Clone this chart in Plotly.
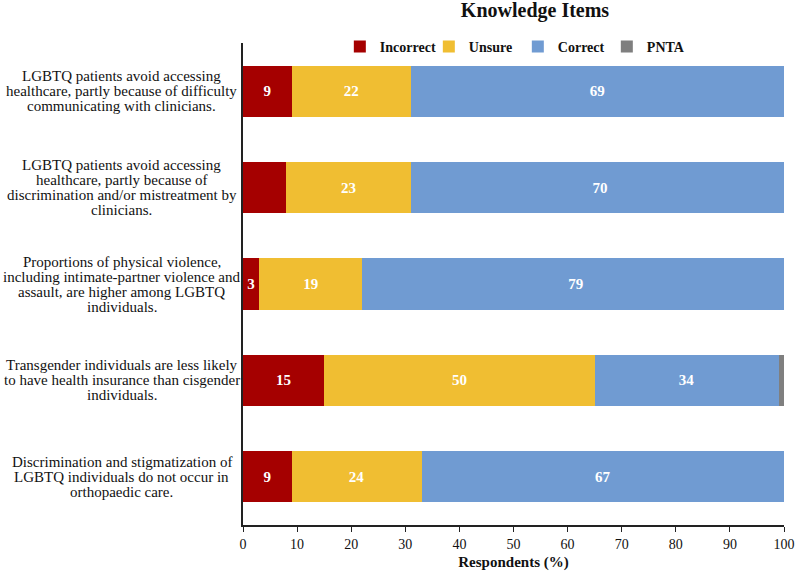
import plotly.graph_objects as go

categories = [
    "LGBTQ patients avoid accessing<br>healthcare, partly because of difficulty<br>communicating with clinicians.",
    "LGBTQ patients avoid accessing<br>healthcare, partly because of<br>discrimination and/or mistreatment by<br>clinicians.",
    "Proportions of physical violence,<br>including intimate-partner violence and<br>assault, are higher among LGBTQ<br>individuals.",
    "Transgender individuals are less likely<br>to have health insurance than cisgender<br>individuals.",
    "Discrimination and stigmatization of<br>LGBTQ individuals do not occur in<br>orthopaedic care.",
]
incorrect = [9, 8, 3, 15, 9]
unsure = [22, 23, 19, 50, 24]
correct = [69, 70, 79, 34, 67]
pnta = [0, 0, 0, 1, 0]

incorrect_shown = [True, False, True, True, True]

series = [
    ("Incorrect", incorrect, "#A50000", incorrect_shown),
    ("Unsure", unsure, "#F0BE32", [True] * 5),
    ("Correct", correct, "#709BD2", [True] * 5),
    ("PNTA", pnta, "#7F7F7F", [False] * 5),
]

ypos = list(range(len(categories)))
FONT = "Liberation Serif, Times New Roman, serif"

fig = go.Figure()
for name, vals, color, shown in series:
    fig.add_trace(go.Bar(
        name=name, x=vals, y=ypos, orientation="h",
        marker=dict(color=color, line=dict(width=0)),
        text=[str(v) if s else "" for v, s in zip(vals, shown)],
        textposition="inside", insidetextanchor="middle",
        textfont=dict(family=FONT, size=15, color="white", weight="bold"),
        textangle=0,
        width=0.53,
    ))

annotations = []
for i, cat in enumerate(categories):
    lines = cat.split("<br>")
    n = len(lines)
    for j, line in enumerate(lines):
        annotations.append(dict(
            text=line, xref="paper", yref="y", x=-0.224, y=i,
            xanchor="center", yanchor="middle", showarrow=False,
            yshift=((n - 1) / 2 - j) * 15,
            font=dict(family=FONT, size=15, color="#111"),
        ))

fig.update_layout(
    barmode="stack",
    width=795, height=571,
    margin=dict(l=243, r=11, t=43, b=46, autoexpand=False),
    plot_bgcolor="white", paper_bgcolor="white",
    font=dict(family=FONT, color="#111"),
    title=dict(text="<b>Knowledge Items</b>", x=535 / 795, xanchor="center",
               y=1 - 10 / 571, yanchor="middle",
               font=dict(family=FONT, size=20, color="#111")),
    legend=dict(orientation="h", x=0.508, xanchor="center", y=0.992, yanchor="middle",
                font=dict(family=FONT, size=14, color="#111", weight="bold"),
                entrywidth=44, itemwidth=30, bgcolor="rgba(255,255,255,0)", traceorder="normal"),
    xaxis=dict(range=[0, 100], dtick=10, showgrid=False, zeroline=False, automargin=False,
               showline=True, linecolor="#222", linewidth=1.5,
               ticks="outside", ticklen=5, tickcolor="#222",
               tickfont=dict(family=FONT, size=14, color="#111"),
               title=dict(text="<b>Respondents (%)</b>", standoff=8,
                          font=dict(family=FONT, size=15, color="#111"))),
    yaxis=dict(range=[4.5, -0.5], showticklabels=False, showgrid=False, zeroline=False,
               automargin=False,
               showline=True, linecolor="#222", linewidth=1.5, ticks=""),
    annotations=annotations,
)

fig.write_html("out.html", config={"displayModeBar": False},
               post_script="document.body.style.margin='0';document.body.style.padding='0';")
